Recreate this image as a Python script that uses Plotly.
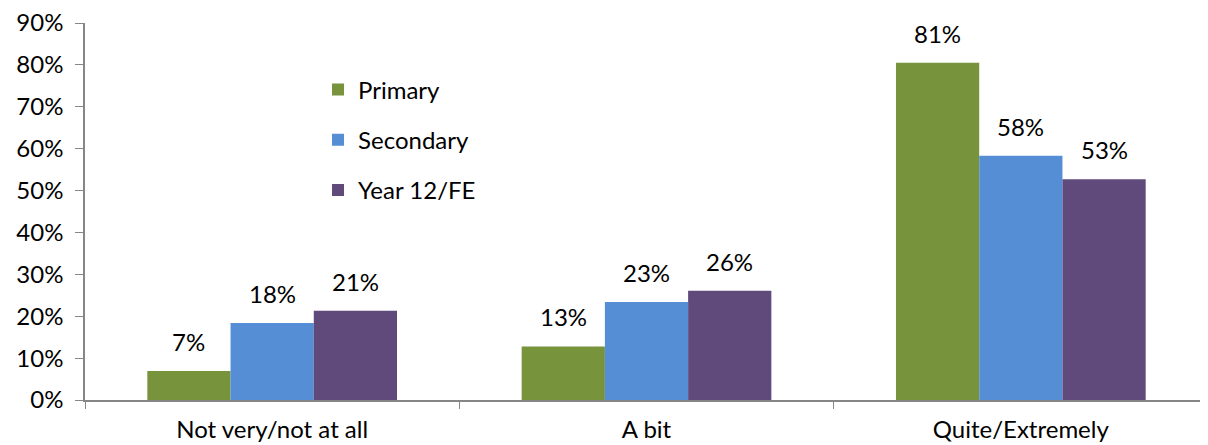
import plotly.graph_objects as go

categories = ["Not very/not at all", "A bit", "Quite/Extremely"]
primary = [6.9, 12.8, 80.5]
secondary = [18.4, 23.4, 58.3]
year12 = [21.3, 26.1, 52.7]
primary_labels = ["7%", "13%", "81%"]
secondary_labels = ["18%", "23%", "58%"]
year12_labels = ["21%", "26%", "53%"]
y_ticks = [0, 10, 20, 30, 40, 50, 60, 70, 80, 90]

FONT = "Lato, Open Sans, sans-serif"
FS = 24

series = [
    ("Primary", primary, primary_labels, "#77933C"),
    ("Secondary", secondary, secondary_labels, "#558ED5"),
    ("Year 12/FE", year12, year12_labels, "#604A7B"),
]

L, R, T, B = 77, 8, 15, 53
W, H = 1208, 445
BARGAP = 0.333
cat_px = (W - L - R) / len(categories)
bar_px = cat_px * (1 - BARGAP) / len(series)

fig = go.Figure()
annotations = []
for i, (name, vals, labels, color) in enumerate(series):
    fig.add_trace(go.Bar(
        name=name, x=categories, y=vals,
        marker=dict(color=color, line=dict(width=0)),
        legendgroup=f"g{i}",
    ))
    for c, v, t in zip(categories, vals, labels):
        annotations.append(dict(
            x=c, y=v, xref="x", yref="y", text=t, showarrow=False,
            xshift=(i - 1) * bar_px, yshift=13, yanchor="bottom",
            font=dict(size=FS, color="#000000", family=FONT),
        ))

fig.update_layout(
    width=W, height=H,
    margin=dict(l=L, r=R, t=T, b=B),
    paper_bgcolor="white", plot_bgcolor="white",
    barmode="group", bargap=BARGAP, bargroupgap=0,
    font=dict(family=FONT, size=FS, color="#000000"),
    showlegend=True,
    legend=dict(
        x=0.2075, y=0.882, xanchor="left", yanchor="top",
        bgcolor="rgba(0,0,0,0)", font=dict(size=FS, family=FONT),
        tracegroupgap=16, traceorder="grouped",
        itemwidth=30,
    ),
    annotations=annotations,
)
fig.update_yaxes(
    range=[0, 90], tickvals=y_ticks, ticktext=[f"{v}%" for v in y_ticks],
    showgrid=False, zeroline=False, automargin=False,
    showline=True, linecolor="#868686", linewidth=1.5,
    ticks="outside", ticklen=8, tickcolor="#868686",
    ticklabelstandoff=7, ticklabeloverflow="allow",
    tickfont=dict(size=FS, family=FONT),
)
fig.update_xaxes(
    showgrid=False, showline=True, linecolor="#868686", linewidth=1.5,
    ticks="outside", ticklen=7, tickcolor="#868686", tickson="boundaries",
    tickfont=dict(size=FS, family=FONT), automargin=False,
    ticklabelstandoff=7, ticklabeloverflow="allow",
)

fig.write_html("out.html")
